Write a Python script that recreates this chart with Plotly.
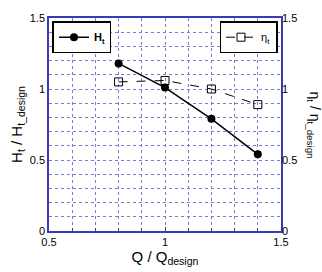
import plotly.graph_objects as go

q_ratio = [0.8, 1.0, 1.2, 1.4]
head_ratio = [1.18, 1.01, 0.79, 0.54]
eff_ratio = [1.05, 1.06, 1.00, 0.89]

axis_col = "#3a3ab8"
grid_col = "#7a7ad4"
font = dict(family="Liberation Sans, Arial", size=11, color="black")
leg_font = dict(family="Liberation Sans, Arial", size=11, color="black")

fig = go.Figure()
fig.add_trace(go.Scatter(
    x=q_ratio, y=head_ratio, mode="lines+markers", name="<b>H<sub>t</sub></b>",
    line=dict(color="black", width=1.5),
    marker=dict(symbol="circle", size=8, color="black"),
    legend="legend"))
fig.add_trace(go.Scatter(
    x=q_ratio, y=eff_ratio, mode="lines+markers", name="η<sub>t</sub>",
    line=dict(color="black", width=1, dash="dash"),
    marker=dict(symbol="square-open", size=8, color="black", line=dict(width=1)),
    yaxis="y2", legend="legend2"))

grid_common = dict(showgrid=True, gridcolor=grid_col, griddash="dot", gridwidth=1,
                   showline=True, linecolor=axis_col, linewidth=1.5, mirror=True,
                   zeroline=False, tickfont=font)

fig.update_layout(
    width=322, height=272,
    margin=dict(l=49, r=41, t=14, b=33),
    paper_bgcolor="white", plot_bgcolor="white",
    font=font,
    xaxis=dict(range=[0.5, 1.5], tickvals=[0.5, 1, 1.5], ticktext=["0.5", "1", "1.5"],
               ticks="inside", ticklen=4, tickcolor=axis_col,
               minor=dict(dtick=0.1, showgrid=True, gridcolor=grid_col, griddash="dot",
                          ticks="inside", ticklen=3, tickcolor=axis_col),
               title=dict(text="Q / Q<sub>design</sub>", font=dict(family="Liberation Sans, Arial", size=15, color="black"), standoff=2),
               **grid_common),
    yaxis=dict(range=[0, 1.5], tickvals=[0, 0.5, 1, 1.5], ticktext=["0", "0.5", "1", "1.5"],
               ticks="", minor=dict(dtick=0.1, showgrid=True, gridcolor=grid_col, griddash="dot"),
               title=dict(text="H<sub>t</sub> / H<sub>t_design</sub>", font=dict(family="Liberation Sans, Arial", size=15, color="black"), standoff=4),
               **grid_common),
    yaxis2=dict(range=[0, 1.5], tickvals=[0, 0.5, 1, 1.5], ticktext=["0", "0.5", "1", "1.5"],
                overlaying="y", side="right", showgrid=False, ticks="", tickfont=font,
                showline=False, zeroline=False),
    legend=dict(x=0.015, y=0.985, xanchor="left", yanchor="top",
                bgcolor="white", bordercolor="black", borderwidth=1.5,
                font=leg_font, itemwidth=30, tracegroupgap=0),
    legend2=dict(x=0.985, y=0.985, xanchor="right", yanchor="top",
                 bgcolor="white", bordercolor="black", borderwidth=1.5,
                 font=leg_font, itemwidth=30),
    showlegend=True,
)

fig.add_annotation(text="η<sub>t</sub> / η<sub>t_design</sub>", xref="paper", yref="paper",
                   x=1.0, y=0.5, xshift=33, xanchor="center", yanchor="middle",
                   textangle=90, showarrow=False,
                   font=dict(family="Liberation Sans, Arial", size=14, color="black"))

fig.write_html("out.html")
